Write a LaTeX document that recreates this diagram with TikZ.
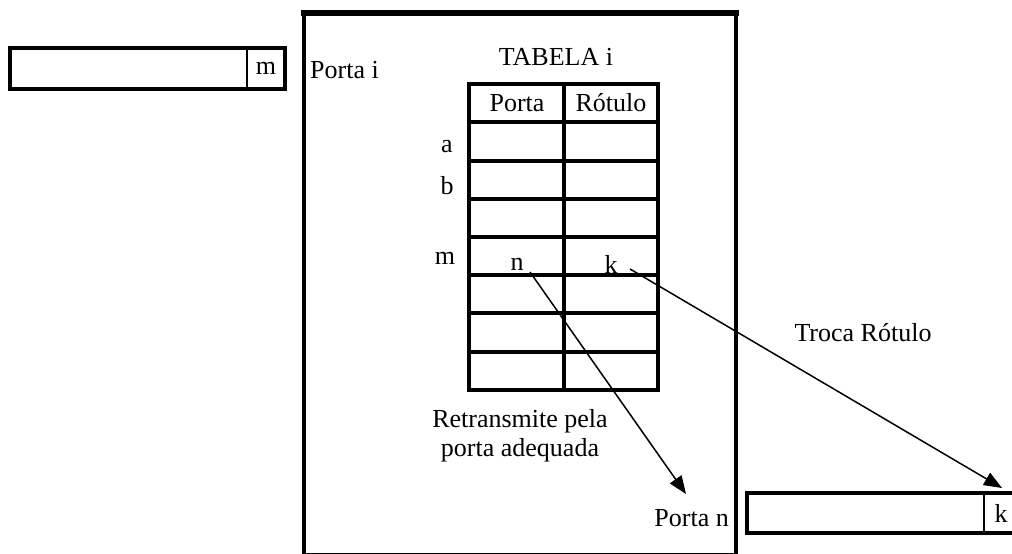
\documentclass[tikz,border=0pt]{standalone}
\usepackage{fontspec}
\setmainfont{Liberation Serif}
\usetikzlibrary{arrows.meta}

\begin{document}
\begin{tikzpicture}[x=1pt, y=-1pt,
    txt/.style={inner sep=0pt, font=\fontsize{26}{29}\selectfont},
    pacote/.style={draw, line width=4pt},
    grade/.style={line width=4.5pt},
    seta/.style={line width=1.5pt, -{Triangle[length=18pt, width=14pt]}}
]
\useasboundingbox (0,0) rectangle (1012,554);

% roteador
\draw[line width=4.5pt] (304,13) rectangle (736,555);
\draw[line width=6pt] (301,13) -- (739,13);

% pacote de entrada
\draw[pacote] (10,48) rectangle (285,89);
\draw[line width=2pt] (247,48) -- (247,89);
\node[txt] (rotm) at (266,68) {m};

% pacote de saida
\draw[pacote] (747,493) rectangle (1040,533);
\draw[line width=2pt] (984,493) -- (984,533);
\node[txt] (rotk) at (1001,513) {k};

% tabela
\foreach \y in {84,122,161,199,237,275,313,352,390}
    \draw[grade] (467,\y) -- (660,\y);
\foreach \x in {469,564,658}
    \draw[grade] (\x,84) -- (\x,390);

\node[txt] (tabela) at (556,57) {TABELA i};
\node[txt, anchor=west] (portai) at (310,70) {Porta i};
\node[txt] (hporta) at (517,103) {Porta};
\node[txt] (hrotulo) at (611,103) {Rótulo};
\node[txt] (la) at (447,147) {a};
\node[txt] (lb) at (447,186) {b};
\node[txt] (lm) at (445,258) {m};
\node[txt] (n) at (517,264) {n};
\node[txt] (k) at (611,264) {k};

\node[txt, align=center] (retransmite) at (520,436) {Retransmite pela\\porta adequada};
\node[txt] (troca) at (863,333) {Troca Rótulo};
\node[txt, anchor=east] (portan) at (729,518) {Porta n};

\coordinate (saidan) at (530,272);
\coordinate (saidak) at (630,269);
\coordinate (chegan) at (686,494);
\coordinate (chegak) at (1002,488);

\draw[seta] (saidan) -- (chegan);
\draw[seta] (saidak) -- (chegak);

\end{tikzpicture}
\end{document}
